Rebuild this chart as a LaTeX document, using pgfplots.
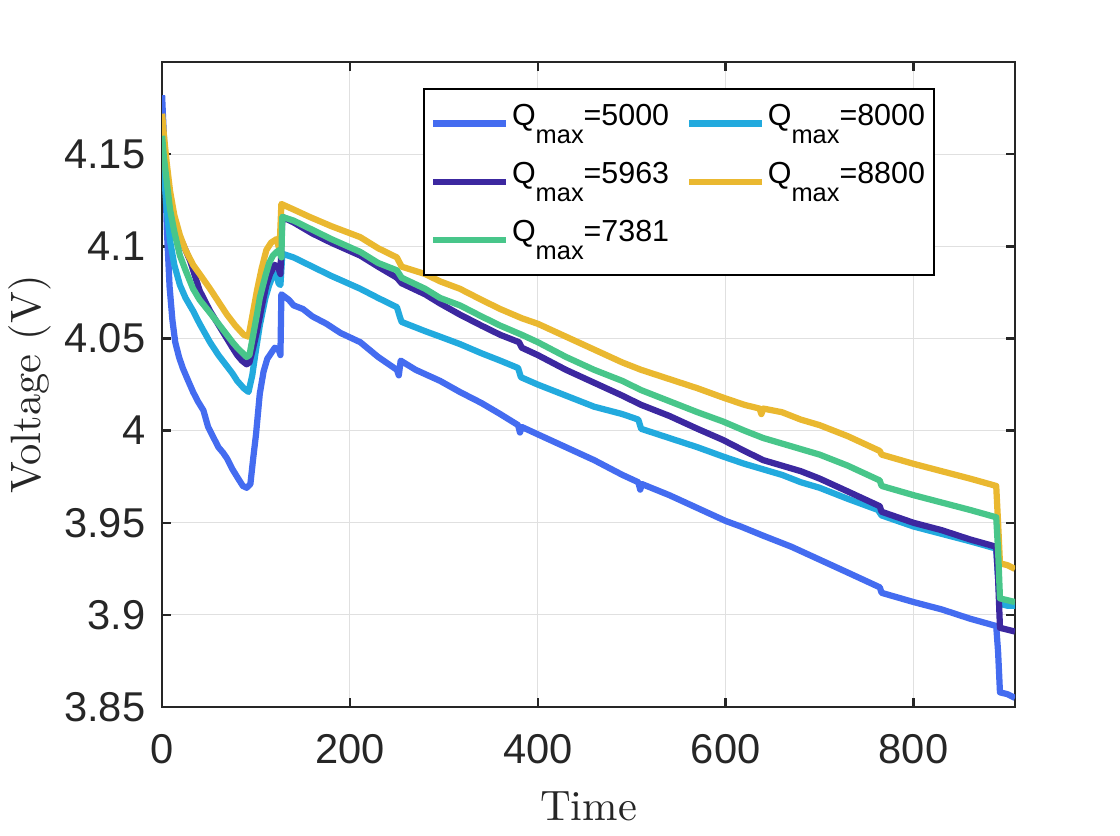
\documentclass[border=0pt]{standalone}
\usepackage{pgfplots}
\pgfplotsset{compat=1.18}
\usepackage{fontspec}
\newfontfamily\arial{Liberation Sans}
\definecolor{cA}{RGB}{68,108,240}
\definecolor{cB}{RGB}{60,40,160}
\definecolor{cC}{RGB}{72,198,138}
\definecolor{cD}{RGB}{34,170,222}
\definecolor{cE}{RGB}{234,184,48}
\definecolor{axgray}{RGB}{38,38,38}
\newcommand{\Q}{Q\raisebox{-4.3pt}{\fontsize{6.1}{6.1}\selectfont max}}
\begin{document}
\begin{tikzpicture}
\begin{axis}[
  scale only axis,
  width=204.7pt, height=154.8pt,
  xmin=0, xmax=908, ymin=3.85, ymax=4.2,
  xtick={0,200,400,600,800},
  ytick={3.85,3.9,3.95,4,4.05,4.1,4.15},
  tick align=inside,
  major tick length=2.2pt,
  grid=major,
  grid style={line width=0.25pt, draw=black!12},
  axis line style={line width=0.6pt, draw=axgray},
  tick style={line width=0.6pt, draw=axgray},
  /pgf/number format/assume math mode=true,
  ticklabel style={font=\arial\fontsize{10}{12}\selectfont, text=axgray},
  xticklabel style={yshift=-3pt},
  yticklabel style={xshift=-0.5pt},
  xlabel={Time},
  ylabel={Voltage (V)},
  label style={font=\fontsize{10.2}{12}\selectfont, text=axgray},
  xlabel style={at={(axis description cs:0.5,-0.1535)}, anchor=center},
  ylabel style={at={(axis description cs:-0.1553,0.5)}, anchor=center},
  legend columns=2,
  legend cell align=left,
  legend image code/.code={\draw[#1, line width=1.5pt] (0pt,0pt) -- (17.5pt,0pt);},
  legend style={at={(axis description cs:0.306,0.960)}, anchor=north west,
    font=\arial\fontsize{7.3}{8}\selectfont, draw=black, line width=0.5pt,
    inner xsep=1.5pt, inner ysep=2.5pt,
    nodes={text height=5.6pt, text depth=4.8pt, inner sep=0.6pt},
    /tikz/every even column/.append style={column sep=3.5pt},
    row sep=2.4pt},
  every axis plot/.append style={line width=1.5pt, line join=round},
]
\coordinate (ll) at (rel axis cs:0,0);
\coordinate (ur) at (rel axis cs:1,1);
% Qmax=5000
\addplot[cA] coordinates {
(0,4.182)(1,4.170)(3,4.148)(5,4.110)(8,4.078)(11,4.060)(14,4.048)(18,4.040)(22,4.034)(27,4.028)
(33,4.021)(38,4.016)(44,4.011)(49,4.002)(54,3.997)(60,3.991)(65,3.988)(69,3.985)(75,3.979)(81,3.974)
(86,3.970)(90,3.969)(94,3.971)(97,3.985)(100,3.998)(104,4.020)(108,4.032)(112,4.039)(116,4.042)(120,4.045)
(124,4.044)(126,4.041)(127,4.074)(135,4.071)(140,4.068)(150,4.066)(160,4.062)(175,4.058)(190,4.053)(211,4.048)
(230,4.040)(250,4.033)(252,4.030)(254,4.038)(270,4.033)(296,4.027)(317,4.021)(340,4.015)(360,4.009)(379,4.003)
(381,3.999)(383,4.002)(400,3.998)(430,3.991)(460,3.984)(490,3.976)(507,3.972)(509,3.968)(511,3.971)(540,3.965)
(570,3.958)(600,3.951)(616,3.948)(640,3.943)(670,3.937)(700,3.930)(730,3.923)(764,3.915)(766,3.912)(800,3.907)
(830,3.903)(860,3.898)(888,3.894)(890,3.880)(892,3.858)(900,3.857)(908,3.855)
};
\addlegendentry{\Q=5000}
% Qmax=8000
\addplot[cD] coordinates {
(0,4.158)(2,4.140)(5,4.120)(8.5,4.103)(13,4.090)(19,4.079)(25,4.072)(33,4.065)(40,4.058)(51,4.048)
(60,4.041)(69,4.035)(75,4.031)(80,4.027)(87,4.023)(92,4.021)(96,4.030)(100,4.044)(104,4.057)(110,4.072)
(114,4.079)(118,4.084)(122,4.085)(124,4.080)(126,4.079)(128,4.096)(140,4.094)(160,4.089)(180,4.084)(211,4.077)
(230,4.072)(250,4.067)(253,4.062)(255,4.059)(280,4.054)(296,4.051)(317,4.047)(340,4.042)(360,4.038)(379,4.034)
(382,4.029)(400,4.025)(430,4.019)(460,4.013)(490,4.009)(507,4.006)(510,4.001)(540,3.996)(570,3.991)(597,3.986)
(620,3.982)(640,3.979)(660,3.976)(680,3.972)(700,3.969)(730,3.963)(762,3.957)(766,3.954)(800,3.948)(830,3.944)
(860,3.940)(888,3.936)(890,3.920)(892,3.906)(900,3.905)(908,3.905)
};
\addlegendentry{\Q=8000}
% Qmax=5963
\addplot[cB] coordinates {
(0,4.162)(2,4.150)(5,4.138)(8.5,4.125)(13,4.114)(19,4.105)(25,4.098)(30,4.092)(35,4.084)(40,4.076)
(45,4.071)(51,4.065)(57,4.060)(63,4.055)(69,4.050)(75,4.045)(80,4.041)(85,4.038)(90,4.036)(93,4.037)
(97,4.045)(101,4.054)(106,4.067)(111,4.079)(115,4.085)(120,4.090)(124,4.088)(126,4.085)(128,4.116)(140,4.113)
(160,4.107)(180,4.102)(211,4.095)(230,4.089)(250,4.083)(255,4.080)(280,4.074)(296,4.069)(317,4.063)(340,4.057)
(360,4.052)(380,4.048)(383,4.045)(400,4.041)(430,4.033)(460,4.026)(490,4.019)(510,4.014)(540,4.008)(570,4.001)
(597,3.995)(620,3.989)(640,3.984)(660,3.981)(680,3.978)(700,3.974)(730,3.967)(764,3.959)(766,3.956)(800,3.950)
(830,3.946)(860,3.941)(888,3.937)(890,3.920)(892,3.893)(900,3.892)(908,3.891)
};
\addlegendentry{\Q=5963}
% Qmax=8800
\addplot[cE] coordinates {
(0,4.172)(2,4.160)(5,4.145)(8.5,4.130)(13,4.117)(19,4.106)(25,4.098)(33,4.090)(40,4.085)(51,4.077)
(60,4.070)(69,4.063)(78,4.057)(87,4.052)(92,4.051)(96,4.062)(101,4.076)(106,4.088)(111,4.098)(116,4.102)
(122,4.104)(125,4.098)(127,4.123)(140,4.120)(157,4.116)(180,4.111)(211,4.105)(230,4.099)(250,4.094)(255,4.089)
(280,4.085)(296,4.081)(317,4.077)(340,4.071)(360,4.066)(383,4.061)(400,4.058)(430,4.051)(460,4.044)(490,4.037)
(510,4.033)(540,4.028)(570,4.023)(597,4.018)(620,4.014)(636,4.012)(638,4.009)(640,4.012)(660,4.010)(680,4.006)
(700,4.003)(730,3.997)(764,3.989)(766,3.987)(800,3.982)(830,3.978)(860,3.974)(888,3.970)(890,3.950)(892,3.928)
(900,3.927)(908,3.925)
};
\addlegendentry{\Q=8800}
% Qmax=7381
\addplot[cC] coordinates {
(0,4.160)(2,4.148)(5,4.135)(8.5,4.120)(13,4.108)(19,4.095)(25,4.087)(33,4.077)(40,4.071)(51,4.064)
(60,4.058)(69,4.052)(75,4.048)(80,4.045)(86,4.042)(90,4.040)(93,4.041)(97,4.052)(101,4.063)(104,4.072)
(110,4.084)(114,4.091)(118,4.095)(122,4.097)(125,4.098)(127,4.094)(128,4.116)(140,4.114)(160,4.109)(180,4.104)
(211,4.097)(230,4.091)(250,4.087)(255,4.083)(280,4.077)(296,4.072)(317,4.068)(340,4.062)(360,4.057)(383,4.052)
(400,4.048)(430,4.040)(460,4.033)(490,4.027)(510,4.022)(540,4.016)(570,4.010)(597,4.005)(620,4.000)(640,3.996)
(660,3.993)(680,3.990)(700,3.987)(730,3.981)(764,3.973)(766,3.970)(800,3.965)(830,3.961)(860,3.957)(888,3.953)
(890,3.935)(892,3.909)(900,3.908)(908,3.907)
};
\addlegendentry{\Q=7381}
\end{axis}
\pgfresetboundingbox
\path ([xshift=-38.9pt,yshift=-30.7pt]ll) rectangle ([xshift=25.2pt,yshift=14.9pt]ur);
\end{tikzpicture}
\end{document}
